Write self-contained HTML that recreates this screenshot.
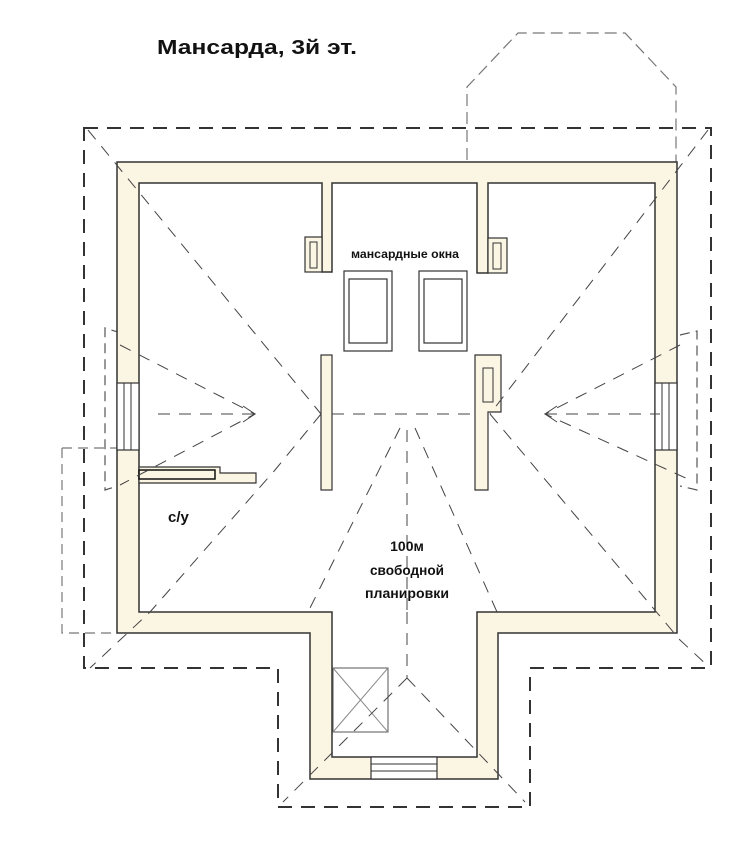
<!DOCTYPE html>
<html><head><meta charset="utf-8"><style>
html,body{margin:0;padding:0;background:#fff;width:744px;height:850px;overflow:hidden}
svg{display:block}
text{font-family:"Liberation Sans",sans-serif;font-weight:bold;fill:#111}
</style></head><body>
<svg width="744" height="850" viewBox="0 0 744 850" xmlns="http://www.w3.org/2000/svg">
<text x="157" y="54" font-size="20" textLength="200" lengthAdjust="spacingAndGlyphs">Мансарда, 3й эт.</text>

<!-- bay dashed top -->
<path d="M467 160 V87 L518 33 H625 L676 87 V162" fill="none" stroke="#777" stroke-width="1.2" stroke-dasharray="12 6"/>

<!-- outer dashed roof outline -->
<path d="M84 128 H711 V668 H530 V807 H278 V668 H84 Z" fill="none" stroke="#333" stroke-width="2" stroke-dasharray="14 9"/>
<!-- side dashed brackets -->
<path d="M121 333 L105 328 V490 L121 485" fill="none" stroke="#555" stroke-width="1.2" stroke-dasharray="10 6"/>
<path d="M62 448 H117 M62 448 V633 H117" fill="none" stroke="#777" stroke-width="1.2" stroke-dasharray="10 6"/>
<path d="M680 335 L697 331 V490 L680 486" fill="none" stroke="#555" stroke-width="1.2" stroke-dasharray="10 6"/>

<!-- walls -->
<path fill-rule="evenodd" fill="#fbf5e3" stroke="#333" stroke-width="1.5"
 d="M117 162 H677 V633 H498 V779 H310 V633 H117 Z
    M139 183 H322 V272 H332 V183 H477 V273 H488 V183 H655 V612 H477 V757 H332 V612 H139 Z"/>
<!-- vents -->
<rect x="305" y="237" width="17" height="35" fill="#fbf5e3" stroke="#333" stroke-width="1.2"/>
<rect x="310" y="242" width="7" height="26" fill="none" stroke="#333" stroke-width="1"/>
<rect x="488" y="238" width="19" height="35" fill="#fbf5e3" stroke="#333" stroke-width="1.2"/>
<rect x="493" y="243" width="8" height="26" fill="none" stroke="#333" stroke-width="1"/>
<!-- side windows -->
<rect x="117" y="383" width="22" height="67" fill="#fff" stroke="#333" stroke-width="1.2"/>
<line x1="124" y1="383" x2="124" y2="450" stroke="#333"/><line x1="131" y1="383" x2="131" y2="450" stroke="#333"/>
<rect x="655" y="383" width="22" height="67" fill="#fff" stroke="#333" stroke-width="1.2"/>
<line x1="662" y1="383" x2="662" y2="450" stroke="#333"/><line x1="669" y1="383" x2="669" y2="450" stroke="#333"/>
<!-- stairs at bump -->
<rect x="371" y="757" width="66" height="22" fill="#fff" stroke="#333" stroke-width="1.2"/>
<line x1="371" y1="764" x2="437" y2="764" stroke="#333"/><line x1="371" y1="771" x2="437" y2="771" stroke="#333"/>
<!-- skylight -->
<rect x="333" y="668" width="55" height="64" fill="none" stroke="#555" stroke-width="1"/>
<path d="M333 668 L388 732 M388 668 L333 732" stroke="#888" stroke-width="1"/>
<!-- columns -->
<rect x="321" y="355" width="11" height="135" fill="#fbf5e3" stroke="#333" stroke-width="1.2"/>
<path d="M475 355 H501 V412 H488 V490 H475 Z" fill="#fbf5e3" stroke="#333" stroke-width="1.2"/>
<rect x="483" y="368" width="10" height="34" fill="none" stroke="#333" stroke-width="1"/>
<!-- shelf -->
<path d="M139 467 H220 V473 H256 V483 H139 Z" fill="#fbf5e3" stroke="#333" stroke-width="1.2"/>
<rect x="139" y="470" width="76" height="9" fill="none" stroke="#111" stroke-width="1.5"/>
<!-- mansard windows -->
<rect x="344" y="271" width="48" height="80" fill="none" stroke="#333" stroke-width="1.2"/>
<rect x="349" y="279" width="38" height="64" fill="none" stroke="#333" stroke-width="1.2"/>
<rect x="419" y="271" width="48" height="80" fill="none" stroke="#333" stroke-width="1.2"/>
<rect x="424" y="279" width="38" height="64" fill="none" stroke="#333" stroke-width="1.2"/>

<!-- roof dashed lines -->
<g fill="none" stroke="#444" stroke-width="1" stroke-dasharray="12 9">
<path d="M88 130 L321 414"/>
<path d="M708 130 L490 414"/>
<path d="M321 414 L275 470 L150 612 L90 668"/>
<path d="M490 414 L680 640 L708 666"/>
<path d="M158 414 H255 M332 414 H475 M545 414 H660"/>
<path d="M120 345 L255 414 L120 485"/>
<path d="M680 345 L545 414 L690 480"/>
<path d="M400 428 L308 612 M415 428 L497 612"/>
<path d="M407 430 V612 M407 612 V678"/>
<path d="M407 678 L283 802 M407 678 L525 802"/>
</g>
<path d="M243 406 L255 414 L243 422 M557 406 L545 414 L557 422" fill="none" stroke="#444" stroke-width="1"/>

<text x="405" y="258" font-size="12" text-anchor="middle" textLength="108" lengthAdjust="spacingAndGlyphs">мансардные окна</text>
<text x="168" y="522" font-size="15" font-weight="normal">с/у</text>
<text x="407" y="551" font-size="14" text-anchor="middle">100м</text>
<text x="407" y="575" font-size="14" text-anchor="middle" textLength="74" lengthAdjust="spacingAndGlyphs">свободной</text>
<text x="407" y="598" font-size="14" text-anchor="middle" textLength="84" lengthAdjust="spacingAndGlyphs">планировки</text>
</svg>
</body></html>
